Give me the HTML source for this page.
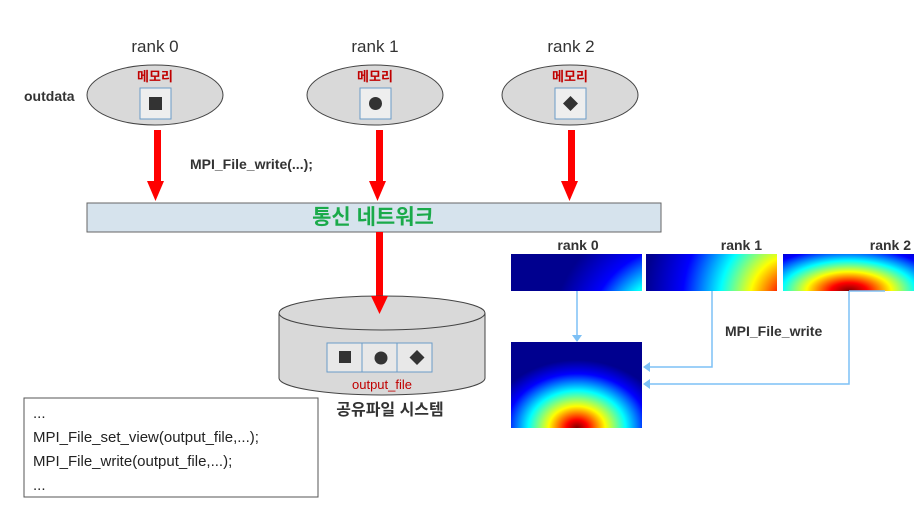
<!DOCTYPE html><html><head><meta charset="utf-8"><style>body{margin:0;background:#fff}svg{display:block}text{font-family:"Liberation Sans","Noto Sans CJK KR",sans-serif}</style></head><body>
<svg width="922" height="516" viewBox="0 0 922 516">
<defs>
<radialGradient id="j0" gradientUnits="userSpaceOnUse" cx="680" cy="340" r="130"><stop offset="0" stop-color="#800000"/><stop offset=".1" stop-color="#f00"/><stop offset=".3" stop-color="#ff0"/><stop offset=".5" stop-color="#0ff"/><stop offset=".72" stop-color="#00f"/><stop offset="1" stop-color="#00008f"/></radialGradient>
<radialGradient id="j1" gradientUnits="userSpaceOnUse" cx="795" cy="300" r="150"><stop offset="0" stop-color="#800000"/><stop offset=".1" stop-color="#f00"/><stop offset=".3" stop-color="#ff0"/><stop offset=".5" stop-color="#0ff"/><stop offset=".75" stop-color="#00f"/><stop offset="1" stop-color="#00008f"/></radialGradient>
<radialGradient id="j2" gradientUnits="userSpaceOnUse" cx="849" cy="291" r="55" gradientTransform="translate(849 291) scale(2.2 1) translate(-849 -291)"><stop offset="0" stop-color="#800000"/><stop offset=".15" stop-color="#f00"/><stop offset=".35" stop-color="#ff0"/><stop offset=".55" stop-color="#0ff"/><stop offset=".78" stop-color="#00f"/><stop offset="1" stop-color="#00008f"/></radialGradient>
<radialGradient id="jc" gradientUnits="userSpaceOnUse" cx="577" cy="428" r="68" gradientTransform="translate(577 428) scale(1.3 1) translate(-577 -428)"><stop offset="0" stop-color="#800000"/><stop offset=".12" stop-color="#f00"/><stop offset=".32" stop-color="#ff0"/><stop offset=".55" stop-color="#0ff"/><stop offset=".8" stop-color="#00f"/><stop offset="1" stop-color="#00008f"/></radialGradient>
</defs>
<g font-size="17" fill="#333" text-anchor="middle"><text x="155" y="52">rank 0</text><text x="375" y="52">rank 1</text><text x="571" y="52">rank 2</text></g>
<text x="24" y="101" font-size="14" font-weight="bold" fill="#333">outdata</text>
<g stroke="#444" fill="#d9d9d9"><ellipse cx="155" cy="95" rx="68" ry="30"/><ellipse cx="375" cy="95" rx="68" ry="30"/><ellipse cx="570" cy="95" rx="68" ry="30"/></g>
<g font-size="13" font-weight="bold" fill="#c00000" text-anchor="middle"><text x="155" y="81">메모리</text><text x="375" y="81">메모리</text><text x="570" y="81">메모리</text></g>
<g fill="#eee" stroke="#6a9cc8"><rect x="140" y="88" width="31" height="31"/><rect x="360" y="88" width="31" height="31"/><rect x="555" y="88" width="31" height="31"/></g>
<rect x="149" y="97" width="13" height="13" fill="#333"/><circle cx="375.5" cy="103.5" r="6.5" fill="#333"/><path d="M570.5 96 L578 103.5 L570.5 111 L563 103.5Z" fill="#333"/>
<g fill="red"><rect x="154" y="130" width="7" height="52"/><path d="M147 181h17l-8.5 20z"/><rect x="376" y="130" width="7" height="52"/><path d="M369 181h17l-8.5 20z"/><rect x="568" y="130" width="7" height="52"/><path d="M561 181h17l-8.5 20z"/></g>
<text x="190" y="169" font-size="14" font-weight="bold" fill="#333">MPI_File_write(...);</text>
<rect x="87" y="203" width="574" height="29" fill="#d6e3ed" stroke="#666"/>
<text x="373" y="224" font-size="21" font-weight="bold" fill="#1aaa4a" text-anchor="middle">통신 네트워크</text>
<rect x="376" y="232" width="7" height="64" fill="red"/>
<path d="M279 313 V378 A103 17 0 0 0 485 378 V313" fill="#d9d9d9" stroke="#444"/>
<ellipse cx="382" cy="313" rx="103" ry="17" fill="#d9d9d9" stroke="#444"/>
<path d="M371 296h17l-8.5 18z" fill="red"/>
<g fill="#e8e8e8" stroke="#6a9cc8"><rect x="327" y="343" width="35" height="29"/><rect x="362" y="343" width="35" height="29"/><rect x="397" y="343" width="35" height="29"/></g>
<rect x="339" y="351" width="12" height="12" fill="#333"/><circle cx="381" cy="358" r="6.5" fill="#333"/><path d="M417 350 L424.5 357.5 L417 365 L409.5 357.5Z" fill="#333"/>
<text x="382" y="389" font-size="13" fill="#c00000" text-anchor="middle">output_file</text>
<text x="390" y="415" font-size="16" font-weight="bold" fill="#333" text-anchor="middle">공유파일 시스템</text>
<rect x="24" y="398" width="294" height="99" fill="#fff" stroke="#555"/>
<g font-size="15" fill="#222"><text x="33" y="418">...</text><text x="33" y="442">MPI_File_set_view(output_file,...);</text><text x="33" y="466">MPI_File_write(output_file,...);</text><text x="33" y="490">...</text></g>
<g font-size="14" font-weight="bold" fill="#333"><text x="578" y="250" text-anchor="middle">rank 0</text><text x="762" y="250" text-anchor="end">rank 1</text><text x="911" y="250" text-anchor="end">rank 2</text></g>
<rect x="511" y="254" width="131" height="37" fill="url(#j0)"/>
<rect x="646" y="254" width="131" height="37" fill="url(#j1)"/>
<rect x="783" y="254" width="131" height="37" fill="url(#j2)"/>
<rect x="511" y="342" width="131" height="86" fill="url(#jc)"/>
<g stroke="#7dc0f5" stroke-width="1.5" fill="none"><path d="M577 291V337"/><path d="M712 291V367H648"/><path d="M849 291V384H648"/><path d="M849 291H885"/></g>
<g fill="#7dc0f5"><path d="M572 335h10l-5 7z"/><path d="M643 367l7-5v10z"/><path d="M643 384l7-5v10z"/></g>
<text x="725" y="336" font-size="14" font-weight="bold" fill="#333">MPI_File_write</text>
</svg></body></html>
